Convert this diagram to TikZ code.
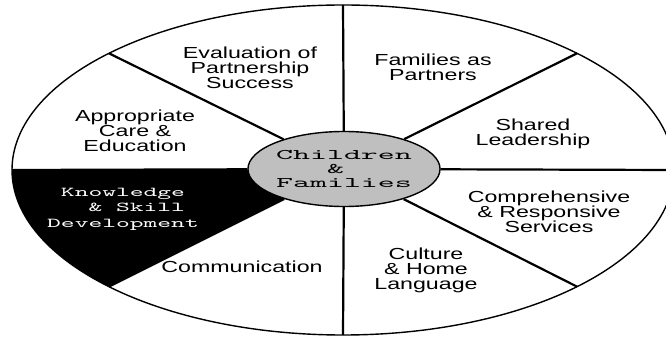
\documentclass[tikz,border=0pt]{standalone}
\usepackage{fontspec}
\setmainfont{Liberation Sans}
\newfontfamily\sectorfont[FakeStretch=1.45]{Liberation Sans}
\newfontfamily\hubfont[FakeStretch=2.2]{lmmono10-regular.otf}
\newfontfamily\skillfont[FakeStretch=1.93]{lmmono10-regular.otf}
\usetikzlibrary{shapes.geometric}

\begin{document}
\begin{tikzpicture}[%
    x=1pt, y=1pt,
    block/.style={
      font=\sectorfont\fontsize{16}{15}\selectfont,
      align=center,
      inner sep=0pt
    },
    block1/.style={
      font=\skillfont\fontsize{13.6}{15.5}\selectfont,
      text=white,
      align=center,
      inner sep=0pt
    },
    line/.style={
      draw,
      line width=2.2pt
    },
    cloud/.style={
      draw=black,
      line width=1.4pt,
      ellipse,
      fill=black!25,
      minimum width=164pt,
      minimum height=75pt,
      inner sep=0pt,
      align=center,
      font=\hubfont\fontsize{14.7}{14}\selectfont
    }
  ]
    \useasboundingbox (0,0) rectangle (666,337);
    \clip (0,0) rectangle (666,337);
    \coordinate (O) at (343,167);
    \coordinate (p0) at (674,167);
    \coordinate (p45) at (577.05,283.67);
    \coordinate (p90) at (343,332);
    \coordinate (p135) at (108.95,283.67);
    \coordinate (p180) at (12,167);
    \coordinate (p225) at (108.95,50.33);
    \coordinate (p270) at (343,2);
    \coordinate (p315) at (577.05,50.33);
    \fill[black] (O) -- (p180) arc[start angle=180, end angle=225, x radius=331pt, y radius=165pt] -- cycle;
    \draw[line width=1.4pt] (O) ellipse [x radius=331pt, y radius=165pt];
    \draw (344,168) node[cloud] (C) {Children\\\&\hphantom{x}\\Families};
    \foreach \p in {p0,p45,p90,p135,p180,p225,p270,p315}
      \draw[line] (C) -- (\p);
    \draw (250,269) node[block] (E) {Evaluation of\\Partnership\\Success};
    \draw (433,270) node[block] (F) {Families as\\Partners};
    \draw (533,203) node[block] (S) {Shared\\Leadership};
    \draw (135,206) node[block] (A) {Appropriate\\Care \&\\Education};
    \draw (549,125) node[block] (R) {Comprehensive\\\& Responsive\\Services};
    \draw (426,67) node[block] (H) {Culture\\\& Home\\Language};
    \draw (242,70) node[block] (M) {Communication};
    \draw (123,128) node[block1] (K) {Knowledge\\\hphantom{xx}\&~Skill\\Development};
  \end{tikzpicture}
\end{document}
